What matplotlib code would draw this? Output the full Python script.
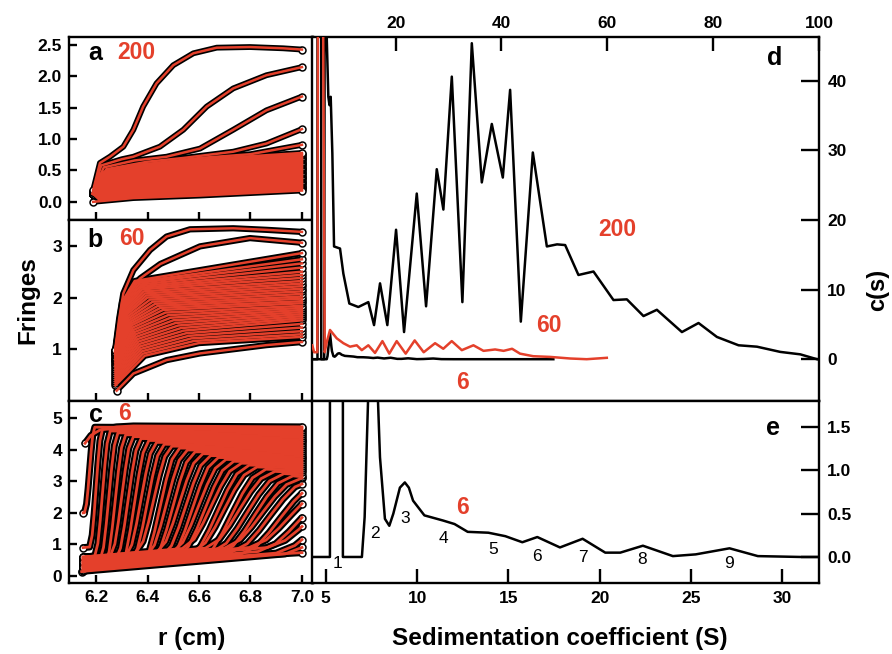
import numpy as np
import matplotlib
matplotlib.use("Agg")
import matplotlib.pyplot as plt

plt.rcParams['font.family'] = ['Liberation Sans', 'DejaVu Sans']
plt.rcParams['font.weight'] = 'bold'
plt.rcParams['axes.linewidth'] = 1.7

RED = '#e4402b'

# ── panel d : c(s) distributions ─────────────────────────────────────────────
s200 = [4.3, 6.5, 6.6, 6.85, 7.28, 7.5, 7.73, 8.04, 8.36, 9.49, 10.12, 11.25, 12.95,
        14.84, 15.92, 17.05, 18.43, 20.08, 21.59, 23.99, 25.75, 27.77, 29.02, 30.61,
        32.61, 34.39, 36.28, 38.17, 40.25, 41.63, 43.65, 45.92, 48.57, 50.5, 52.03,
        54.54, 57.38, 61.16, 63.69, 66.83, 69.36, 74.09, 77.23, 80.7, 84.79, 88.26,
        92.67, 96.45, 99.6]
c200 = [0, 0, 60, 50, 37.7, 36.5, 37.7, 29.6, 16.2, 15.9, 12.3, 8.0, 7.5,
        8.2, 4.9, 10.9, 4.9, 18.6, 3.9, 23.8, 7.6, 27.3, 21.5, 40.6,
        8.2, 45.4, 25.4, 33.8, 26.1, 38.7, 5.4, 29.7, 16.2, 16.5, 16.4,
        12.1, 12.6, 8.5, 8.6, 6.2, 7.1, 3.9, 5.2, 3.2, 2.0, 1.8,
        1.05, 0.7, 0.0]

s60 = [4.25, 4.6, 5.2, 5.4, 6.1, 6.6, 7.0, 7.6, 8.87, 10.12, 11.38, 12.65, 13.6,
       14.84, 16.1, 17.5, 18.8, 20.2, 21.9, 23.6, 25.3, 27.45, 29.0, 30.6, 32.5,
       34.7, 36.6, 38.8, 40.4, 42.0, 43.5, 46.0, 49.2, 53.0, 56.1, 59.9]
c60 = [2.0, 1.0, 1.0, 80, 80, 1.0, 2.5, 4.2, 3.0, 2.3, 1.8, 2.0, 1.3,
       2.0, 0.9, 2.6, 0.8, 2.6, 0.8, 2.7, 1.0, 2.3, 1.5, 2.6, 1.3,
       2.0, 1.2, 1.4, 1.2, 1.5, 0.8, 0.43, 0.33, 0.1, 0.0, 0.2]

# sample 6: shared by panel d (full scale) and panel e (zoomed)
s6 = [4.3, 5.23, 5.25, 5.92, 5.94, 6.98, 7.13, 7.33, 7.6, 7.86, 7.97, 8.24, 8.48,
      8.7, 9.06, 9.33, 9.55, 9.78, 10.4, 11.43, 12.05, 12.77, 13.9, 14.83, 15.76,
      16.58, 17.82, 19.06, 20.3, 21.12, 22.36, 24.0, 25.25, 27.1, 28.65, 31.0,
      35.0, 49.8]
c6 = [0, 0, 120, 120, 0, 0, 0.46, 1.9, 3.7, 1.8, 1.15, 0.44, 0.36,
      0.5, 0.8, 0.86, 0.8, 0.65, 0.48, 0.42, 0.38, 0.29, 0.28, 0.24, 0.17,
      0.23, 0.11, 0.21, 0.05, 0.05, 0.13, 0.01, 0.03, 0.10, 0.01, 0.0,
      0.0, 0.0]
peak_lbl = ['1', '2', '3', '4', '5', '6', '7', '8', '9']
peak_s = [5.62, 7.72, 9.33, 11.43, 14.15, 16.58, 19.06, 22.3, 27.07]
peak_y = [-0.08, 0.27, 0.44, 0.21, 0.09, 0.0, -0.01, -0.03, -0.07]

# ── panel a : 200, raw fringe scans ──────────────────────────────────────────
a_top_r = [[6.189, 6.215, 6.254, 6.306, 6.345, 6.383, 6.435, 6.50, 6.578, 6.669, 6.798, 6.927, 7.0],
           [6.189, 6.22, 6.30, 6.345, 6.448, 6.539, 6.63, 6.733, 6.862, 7.0],
           [6.189, 6.23, 6.35, 6.474, 6.604, 6.733, 6.862, 7.0],
           [6.189, 6.24, 6.40, 6.539, 6.733, 6.862, 7.0],
           [6.189, 6.25, 6.45, 6.604, 6.80, 7.0]]
a_top_y = [[0.19, 0.62, 0.72, 0.88, 1.15, 1.52, 1.89, 2.18, 2.37, 2.46, 2.47, 2.45, 2.43],
           [0.17, 0.58, 0.68, 0.72, 0.88, 1.15, 1.52, 1.81, 2.02, 2.15],
           [0.16, 0.55, 0.66, 0.72, 0.85, 1.15, 1.46, 1.68],
           [0.16, 0.52, 0.64, 0.70, 0.80, 0.93, 1.16],
           [0.15, 0.50, 0.63, 0.70, 0.76, 0.91]]
a_low_r = [6.189, 6.345, 6.604, 7.0]
a_low_y = [0.0, 0.06, 0.10, 0.18]
a_fan_r = [6.215, 6.25, 6.35, 6.5, 6.7, 7.0]
a_fan_shape = [0.72, 0.82, 0.88, 0.93, 0.97, 1.0]
a_fan_end = [0.20, 0.22, 0.24, 0.26, 0.28, 0.30, 0.32, 0.34, 0.36, 0.38,
             0.40, 0.42, 0.44, 0.46, 0.48, 0.50, 0.52, 0.54, 0.56, 0.58,
             0.60, 0.62, 0.64, 0.66, 0.68, 0.70, 0.72, 0.74, 0.76, 0.78]

# ── panel b : 60 ─────────────────────────────────────────────────────────────
b_top_r = [[6.274, 6.29, 6.306, 6.345, 6.41, 6.474, 6.565, 6.733, 6.862, 7.0],
           [6.274, 6.30, 6.33, 6.371, 6.45, 6.604, 6.798, 7.0]]
b_top_y = [[0.98, 1.6, 2.08, 2.53, 2.92, 3.18, 3.32, 3.34, 3.31, 3.27],
           [0.95, 1.7, 2.15, 2.37, 2.65, 2.99, 3.15, 3.06]]
b_low_r = [6.28, 6.345, 6.474, 6.604, 6.862, 7.0]
b_low_y = [0.2, 0.53, 0.79, 0.92, 1.08, 1.14]
b_start = [0.98, 0.975, 0.97, 0.96, 0.955, 0.95, 0.94, 0.93, 0.92, 0.91,
           0.90, 0.88, 0.86, 0.84, 0.82, 0.80, 0.78, 0.75, 0.72, 0.69,
           0.66, 0.62, 0.58, 0.54, 0.50, 0.46, 0.42, 0.38, 0.34, 0.30]
b_knee_r = [6.35, 6.355, 6.36, 6.365, 6.37, 6.375, 6.38, 6.385, 6.39, 6.395,
            6.40, 6.41, 6.42, 6.43, 6.44, 6.45, 6.46, 6.47, 6.48, 6.49,
            6.50, 6.51, 6.52, 6.53, 6.54, 6.55, 6.56, 6.57, 6.58, 6.60]
b_knee_y = [2.32, 2.30, 2.28, 2.25, 2.22, 2.19, 2.16, 2.12, 2.08, 2.04,
            2.00, 1.96, 1.92, 1.88, 1.84, 1.80, 1.76, 1.71, 1.66, 1.61,
            1.56, 1.51, 1.46, 1.41, 1.36, 1.31, 1.26, 1.21, 1.16, 1.12]
b_end = [2.86, 2.74, 2.66, 2.58, 2.50, 2.44, 2.38, 2.32, 2.27, 2.22,
         2.17, 2.12, 2.07, 2.02, 1.98, 1.93, 1.89, 1.84, 1.80, 1.76,
         1.72, 1.68, 1.64, 1.60, 1.56, 1.49, 1.42, 1.35, 1.29, 1.24]

# ── panel c : 6 ──────────────────────────────────────────────────────────────
c_first_r = [6.157, 6.18, 6.215, 6.28, 6.345, 7.0]
c_first_y = [4.2, 4.45, 4.62, 4.72, 4.75, 4.72]
c_low_r = [6.144, 6.215, 6.474, 6.733, 7.0]
c_low_y = [0.14, 0.24, 0.45, 0.61, 0.74]
c_mid = [6.175, 6.20, 6.225, 6.25, 6.275, 6.30, 6.325, 6.35, 6.375, 6.40, 6.425, 6.45,
         6.475, 6.50, 6.525, 6.55, 6.575, 6.60, 6.625, 6.65, 6.675, 6.70, 6.73, 6.76,
         6.79, 6.82, 6.85, 6.88, 6.92, 6.96, 7.00, 7.04, 7.08, 7.12]
c_half = [0.02, 0.025, 0.03, 0.035, 0.04, 0.045, 0.05, 0.055, 0.06, 0.065, 0.07, 0.075,
          0.08, 0.085, 0.09, 0.095, 0.10, 0.105, 0.11, 0.115, 0.12, 0.125, 0.13, 0.135,
          0.14, 0.145, 0.15, 0.155, 0.16, 0.165, 0.17, 0.175, 0.18, 0.185]
c_plat = [4.71, 4.65, 4.59, 4.53, 4.47, 4.41, 4.35, 4.29, 4.23, 4.17, 4.11, 4.05,
          3.99, 3.93, 3.87, 3.81, 3.75, 3.69, 3.63, 3.57, 3.51, 3.45, 3.38, 3.31,
          3.24, 3.17, 3.10, 3.03, 2.96, 2.88, 2.80, 2.72, 2.64, 2.56]
c_start = [2.0, 0.9, 0.6, 0.45, 0.3, 0.55, 0.4, 0.25, 0.5, 0.35, 0.6, 0.2,
           0.45, 0.3, 0.55, 0.4, 0.25, 0.5, 0.35, 0.6, 0.3, 0.45, 0.2, 0.55,
           0.4, 0.3, 0.5, 0.35, 0.25, 0.45, 0.3, 0.4, 0.2, 0.15]
bnd_x = [-1, -0.6, -0.3, 0, 0.3, 0.6, 1]          # boundary profile
bnd_f = [0, 0.1, 0.28, 0.5, 0.72, 0.9, 1]


def draw_scans(ax, curves, red_lw=2.2, black_lw=3.8):
    # data drawn as heavy black traces, fits in red on top of everything
    for r, y in curves:
        ax.plot(r, y, color='black', lw=black_lw, solid_joinstyle='round',
                solid_capstyle='round', zorder=2)
    for r, y in curves:
        ax.plot([r[0], r[-1]], [y[0], y[-1]], 'o', ms=5, mfc='white', mec='black',
                mew=1.1, zorder=3)
    for r, y in curves:
        ax.plot(r, y, color=RED, lw=red_lw, solid_joinstyle='round', zorder=4)


def style_left(ax, ylim, yticks, fmt, show_x):
    ax.set_xlim(6.095, 7.043)
    ax.set_ylim(*ylim)
    ax.set_xticks([6.2, 6.4, 6.6, 6.8, 7.0])
    ax.set_yticks(yticks)
    ax.set_yticklabels([fmt % v for v in yticks])
    ax.tick_params(direction='in', length=6, width=1.7, labelsize=12.5,
                   top=False, right=False, labelbottom=show_x, pad=5)


fig = plt.figure(figsize=(8.92, 6.54), dpi=100)
ax_a = fig.add_axes([0.0774, 0.6636, 0.2735, 0.2798])
ax_b = fig.add_axes([0.0774, 0.3869, 0.2735, 0.2767])
ax_c = fig.add_axes([0.0774, 0.1086, 0.2735, 0.2783])
ax_d = fig.add_axes([0.3498, 0.3869, 0.5684, 0.5566])
ax_e = fig.add_axes([0.3498, 0.1086, 0.5684, 0.2783])

# panel a
curves = []
low_at = np.interp(a_fan_r, a_low_r, a_low_y)
for e in a_fan_end:
    y = [0.13] + list(low_at + (e - a_low_y[-1]) * np.array(a_fan_shape))
    curves.append(([a_low_r[0]] + a_fan_r, y))
curves.append((a_low_r, a_low_y))
for r, y in zip(a_top_r[::-1], a_top_y[::-1]):
    curves.append((r, y))
draw_scans(ax_a, curves, red_lw=1.8, black_lw=4.2)
style_left(ax_a, (-0.29, 2.63), [0, 0.5, 1.0, 1.5, 2.0, 2.5], '%.1f', False)

# panel b
curves = [(b_low_r, b_low_y)]
for y0, kr, ky, e in zip(b_start[::-1], b_knee_r[::-1], b_knee_y[::-1], b_end[::-1]):
    r0 = 6.275
    r = [r0, r0 + 0.35 * (kr - r0), kr, 7.0]
    y = [y0, y0 + 0.7 * (ky - y0), ky, e]
    curves.append((r, y))
for r, y in zip(b_top_r[::-1], b_top_y[::-1]):
    curves.append((r, y))
draw_scans(ax_b, curves, red_lw=1.8, black_lw=4.5)
style_left(ax_b, (0, 3.5), [1, 2, 3], '%d', False)

# panel c
curves = [(c_low_r, c_low_y)]
slope = (c_low_y[-1] - c_low_y[0]) / (c_low_r[-1] - c_low_r[0])
for m, w, p, y0 in list(zip(c_mid, c_half, c_plat, c_start))[::-1]:
    rr = [6.15] + [m + w * t for t in bnd_x]
    base = [y0 + slope * (x - 6.15) for x in rr]
    yy = [y0] + [b + f * (p - b) for b, f in zip(base[1:], bnd_f)]
    rr.append(max(7.0, rr[-1] + 0.01))
    yy.append(p - 0.03)
    y_end = float(np.interp(7.0, rr, yy))
    keep = [i for i, x in enumerate(rr) if x < 7.0]
    curves.append(([rr[i] for i in keep] + [7.0], [yy[i] for i in keep] + [y_end]))
curves.append((c_first_r, c_first_y))
draw_scans(ax_c, curves, red_lw=2.0, black_lw=5.0)
style_left(ax_c, (-0.22, 5.54), [0, 1, 2, 3, 4, 5], '%d', True)

# panel d
ax_d.plot(s200, c200, color='black', lw=1.8, solid_joinstyle='round', zorder=3)
ax_d.plot(s6, c6, color='black', lw=1.8, zorder=3)
ax_d.plot(s60, c60, color=RED, lw=1.8, solid_joinstyle='round', zorder=4)
ax_d.set_xlim(4.2, 100)
ax_d.set_ylim(-6, 46.3)
ax_d.set_xticks([20, 40, 60, 80, 100])
ax_d.set_yticks([0, 10, 20, 30, 40])
ax_d.tick_params(axis='x', direction='in', length=10, width=1.7, labelsize=12.5,
                 top=True, labeltop=True, bottom=False, labelbottom=False, pad=4)
ax_d.tick_params(axis='y', direction='in', length=13, width=1.7, labelsize=12.5,
                 left=False, labelleft=False, right=True, labelright=True, pad=6)
ax_d.text(91.7, 43.3, 'd', fontsize=18, ha='center', va='center')
ax_d.text(61.8, 18.6, '200', color=RED, fontsize=16.5, ha='center', va='center')
ax_d.text(48.9, 4.9, '60', color=RED, fontsize=16.5, ha='center', va='center')
ax_d.text(32.6, -3.3, '6', color=RED, fontsize=16.5, ha='center', va='center')

# panel e
ax_e.plot(s6, c6, color='black', lw=1.8, solid_joinstyle='round')
ax_e.set_xlim(4.25, 32)
ax_e.set_ylim(-0.30, 1.80)
ax_e.set_xticks([5, 10, 15, 20, 25, 30])
ax_e.set_yticks([0, 0.5, 1.0, 1.5])
ax_e.set_yticklabels(['0.0', '0.5', '1.0', '1.5'])
ax_e.tick_params(axis='x', direction='in', length=10, width=1.7, labelsize=12.5,
                 top=False, pad=6)
ax_e.tick_params(axis='y', direction='in', length=13, width=1.7, labelsize=12.5,
                 left=False, labelleft=False, right=True, labelright=True, pad=6)
for lbl, xs, ys in zip(peak_lbl, peak_s, peak_y):
    ax_e.text(xs, ys, lbl, fontsize=12.5, fontweight='normal', ha='center', va='center')
ax_e.text(29.5, 1.49, 'e', fontsize=18, ha='center', va='center')
ax_e.text(12.5, 0.57, '6', color=RED, fontsize=16.5, ha='center', va='center')

# panel tags on the left
for ax, tag, num, xy_tag, xy_num in [
        (ax_a, 'a', '200', (6.196, 2.37), (6.358, 2.38)),
        (ax_b, 'b', '60', (6.196, 3.12), (6.338, 3.15)),
        (ax_c, 'c', '6', (6.20, 5.10), (6.312, 5.14))]:
    ax.text(*xy_tag, tag, fontsize=18, ha='center', va='center', zorder=6)
    ax.text(*xy_num, num, color=RED, fontsize=16.5, ha='center', va='center', zorder=6)

fig.text(28 / 892, 1 - 300 / 654, 'Fringes', rotation=90, fontsize=17.5,
         ha='center', va='center')
fig.text(192 / 892, 1 - 638 / 654, 'r (cm)', fontsize=17.5, ha='center', va='center')
fig.text(560 / 892, 1 - 638 / 654, 'Sedimentation coefficient (S)', fontsize=17.5,
         ha='center', va='center')
fig.text(878 / 892, 1 - 290 / 654, 'c(s)', rotation=90, fontsize=17,
         ha='center', va='center')

fig.savefig('out.png', dpi=100)
